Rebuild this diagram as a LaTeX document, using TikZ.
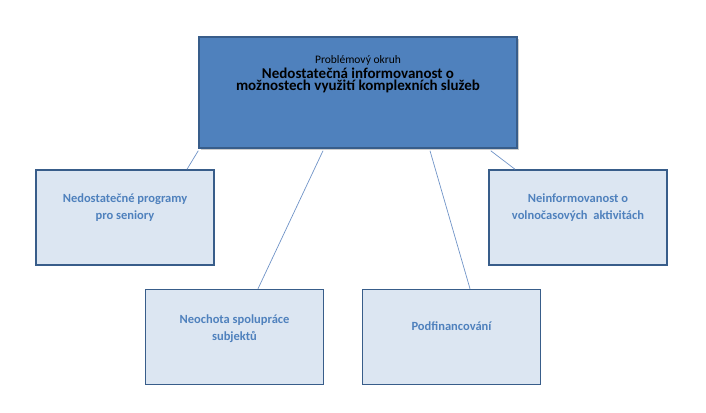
\documentclass[tikz,border=0pt]{standalone}
\usepackage{fontspec}
\setmainfont{Carlito}
\usetikzlibrary{shadows,calc}
\definecolor{bord}{HTML}{385D8A}
\definecolor{mainf}{HTML}{4F81BD}
\definecolor{subf}{HTML}{DCE6F2}
\definecolor{txtb}{HTML}{4F81BD}
\definecolor{linec}{HTML}{6F93C7}
\begin{document}
\begin{tikzpicture}[x=1pt,y=-1pt,
  sub/.style={draw=bord,line width=1.5pt,fill=subf,minimum width=178pt,minimum height=95pt,align=center,font=\bfseries\fontsize{12.5}{17}\selectfont,text=txtb},
  conn/.style={draw=linec,line width=0.7pt}]
\useasboundingbox (0,0) rectangle (706,412);
\node[draw=bord,line width=1.5pt,fill=mainf,minimum width=318pt,minimum height=111pt,align=center,drop shadow={opacity=0.4,shadow xshift=2pt,shadow yshift=-2pt}] (top) at (358,92.5) {};
\node[align=center,anchor=north] (tt) at (358,52)
 {{\fontsize{11.5}{14}\selectfont Problémový okruh}\\[2pt]{\bfseries\fontsize{15}{20}\selectfont Nedostatečná informovanost o}\\{\bfseries\fontsize{15}{20}\selectfont možnostech využití komplexních služeb}};
\node[sub] (a) at (125,217.5) {};
\node[sub] (b) at (578,217.5) {};
\node[sub] (c) at (234.5,337) {};
\node[sub] (d) at (451.5,337) {};
\node[sub,draw=none,fill=none,minimum height=0pt] (at) at (125,208) {Nedostatečné programy\\pro seniory};
\node[sub,draw=none,fill=none,minimum height=0pt] (bt) at (578,208) {Neinformovanost o\\volnočasových\ \ aktivitách};
\node[sub,draw=none,fill=none,minimum height=0pt] (ct) at (234.5,329) {Neochota spolupráce\\subjektů};
\node[sub,draw=none,fill=none,minimum height=0pt] (dt) at (451.5,326) {Podfinancování};
\draw[conn] ($(top.south west)+(0,2)$) -- ($(a.north)+(62,0)$);
\draw[conn] ($(top.south east)+(-27,2)$) -- ($(b.north)+(-63,0)$);
\draw[conn] ($(top.south)+(-35,2)$) -- ($(c.north)+(23.5,0)$);
\draw[conn] ($(top.south)+(72,2)$) -- ($(d.north)+(18.5,0)$);
\end{tikzpicture}
\end{document}
